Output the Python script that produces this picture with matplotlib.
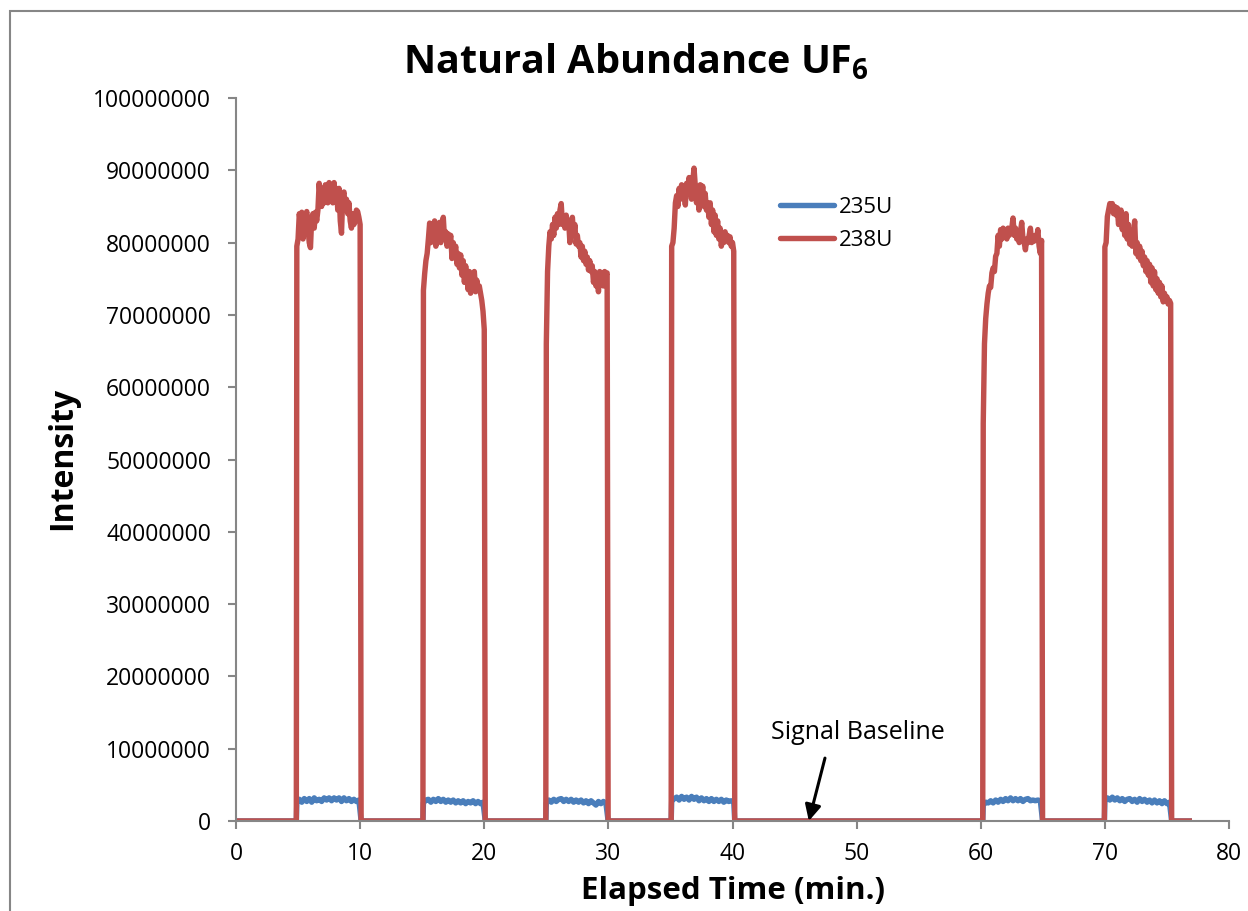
import numpy as np
import matplotlib
matplotlib.use("Agg")
import matplotlib.pyplot as plt
from matplotlib.patches import Rectangle

plt.rcParams['font.family'] = ['Open Sans', 'DejaVu Sans']
plt.rcParams['mathtext.fontset'] = 'custom'
plt.rcParams['mathtext.rm'] = 'Open Sans'
plt.rcParams['mathtext.bf'] = 'Open Sans:bold'

# ---------------- data ----------------
# pulse start times (min) for both isotopes, sampling steps
pulse_starts = [4.9, 15.1, 25.0, 35.1, 60.2, 70.0]
step_238 = 0.1
step_235 = 0.2
end_time = 76.8

# 238U intensity during each pulse (millions of counts)
u238_p1 = [79.5, 80.5, 84.0, 82.5, 84.2, 80.5, 84.0, 83.5, 84.3, 82.0, 80.0, 79.3, 83.5, 84.0, 82.0,
           84.2, 83.0, 84.5, 88.2, 86.0, 85.0, 87.5, 85.5, 88.0, 86.5, 85.5, 88.3, 86.5, 87.8, 85.5,
           88.3, 86.0, 87.5, 84.5, 87.5, 83.0, 81.3, 86.5, 87.0, 84.5, 86.0, 84.0, 85.5, 83.0, 82.0,
           84.0, 82.5, 83.0, 84.5, 84.3, 83.5, 82.5]
u238_p2 = [73.4, 75.7, 77.5, 78.5, 80.5, 82.7, 80.0, 82.5, 81.0, 83.0, 79.5, 82.0, 80.5, 82.8, 80.0,
           82.0, 83.5, 80.5, 81.5, 79.5, 81.2, 80.0, 81.0, 77.8, 80.0, 78.5, 79.5, 77.0, 78.5, 76.5,
           78.3, 75.5, 77.5, 74.5, 76.8, 75.5, 73.5, 76.0, 73.0, 75.5, 74.0, 76.0, 73.2, 74.8, 73.5,
           74.0, 73.0, 72.0, 70.5, 68.0]
u238_p3 = [66.0, 76.0, 79.5, 81.5, 80.5, 82.5, 81.0, 83.5, 82.0, 84.0, 82.5, 84.5, 85.4, 82.5, 83.5,
           82.0, 83.8, 82.5, 83.0, 80.0, 82.5, 83.5, 81.0, 82.5, 79.8, 81.0, 79.5, 80.0, 78.0, 79.5,
           77.5, 78.8, 77.0, 78.0, 76.2, 77.5, 76.0, 76.8, 74.5, 76.0, 74.0, 75.5, 73.2, 76.0, 74.5,
           75.8, 74.0, 76.0, 75.5, 75.8]
u238_p4 = [79.5, 80.0, 82.0, 85.5, 86.5, 85.0, 87.5, 86.0, 88.0, 86.5, 87.0, 85.2, 88.2, 87.0, 89.0,
           87.5, 86.0, 88.5, 90.3, 88.0, 85.5, 87.5, 84.5, 88.0, 86.0, 87.8, 85.0, 86.8, 84.5, 85.5,
           83.5, 85.5, 82.5, 84.5, 81.5, 83.8, 81.0, 83.0, 80.5, 82.0, 79.5, 81.0, 80.0, 81.5, 80.5,
           81.0, 80.0, 80.8, 79.5, 80.0, 78.8]
u238_p5 = [55.0, 66.0, 69.5, 71.5, 73.0, 74.0, 73.8, 75.8, 76.5, 76.0, 78.1, 78.5, 81.0, 79.5, 81.8,
           80.5, 82.0, 80.8, 81.8, 80.5, 82.0, 81.0, 81.5, 82.0, 83.4, 81.0, 82.0, 80.5, 81.5, 80.0,
           81.5, 82.8, 80.5, 80.0, 79.0, 80.5, 80.0, 81.0, 82.0, 80.0, 80.8, 80.2, 81.0, 80.5, 81.8,
           79.5, 78.5, 80.3]
u238_p6 = [79.4, 80.0, 83.6, 84.5, 85.4, 85.2, 85.4, 84.0, 85.0, 83.8, 84.8, 82.5, 83.5, 84.5, 81.8,
           83.0, 81.0, 84.0, 80.5, 82.5, 79.8, 81.5, 79.5, 81.0, 83.0, 78.5, 80.0, 78.0, 79.5, 77.5,
           78.8, 76.8, 78.0, 76.0, 77.5, 75.5, 77.0, 74.5, 76.5, 74.0, 76.0, 73.5, 75.0, 73.0, 74.5,
           72.5, 74.0, 71.8, 73.0, 72.0, 72.5, 71.5, 72.0, 71.6]

# 235U intensity during each pulse (millions of counts)
u235_p1 = [2.5, 3.0, 2.6, 3.1, 2.7, 3.1, 2.6, 3.2, 2.8, 3.0, 2.7, 3.2, 2.9, 3.2, 2.8, 3.2, 2.9, 3.2,
           2.7, 3.2, 2.8, 3.1, 2.7, 3.0, 2.7, 2.9]
u235_p2 = [2.5, 2.9, 3.0, 2.6, 3.0, 2.7, 3.1, 2.7, 3.0, 2.6, 2.9, 2.6, 2.9, 2.5, 2.8, 2.5, 2.8, 2.4,
           2.7, 2.5, 2.8, 2.4, 2.7, 2.4, 2.6]
u235_p3 = [2.5, 2.9, 2.6, 3.0, 2.7, 3.0, 3.1, 2.7, 3.0, 2.7, 3.0, 2.6, 2.9, 2.6, 2.9, 2.5, 2.8, 2.4,
           2.8, 2.5, 2.2, 2.7, 2.4, 2.7, 2.5]
u235_p4 = [2.7, 3.1, 3.3, 2.9, 3.4, 3.0, 3.3, 2.9, 3.4, 3.0, 3.3, 2.8, 3.2, 2.8, 3.1, 2.7, 3.1, 2.7,
           3.0, 2.7, 3.0, 2.6, 2.9, 2.7, 2.8, 2.7]
u235_p5 = [2.2, 2.6, 2.5, 2.8, 2.5, 2.9, 2.6, 3.0, 2.7, 3.1, 2.8, 3.2, 2.8, 3.1, 2.8, 3.1, 2.7, 3.0,
           3.1, 2.8, 2.9, 2.8, 2.9, 2.8]
u235_p6 = [2.7, 3.2, 2.9, 3.3, 2.9, 3.2, 2.8, 3.1, 2.7, 3.0, 3.1, 2.7, 3.0, 2.6, 3.1, 2.7, 3.0, 2.6,
           2.9, 2.5, 2.9, 2.5, 2.8, 2.4, 2.8, 2.4, 2.6]

u238_pulses = [u238_p1, u238_p2, u238_p3, u238_p4, u238_p5, u238_p6]
u235_pulses = [u235_p1, u235_p2, u235_p3, u235_p4, u235_p5, u235_p6]
pulse_ends = [s + (len(p) - 1) * step_238 for s, p in zip(pulse_starts, u238_pulses)]

x_ticks = [0, 10, 20, 30, 40, 50, 60, 70, 80]
y_ticks = [0, 10000000, 20000000, 30000000, 40000000, 50000000,
           60000000, 70000000, 80000000, 90000000, 100000000]

# annotation: text position, arrow tail and arrow head (data units)
note_text = 'Signal Baseline'
note_xy = (50.1, 12300000)
arrow_tail = (47.45, 8700000)
arrow_head = (46.15, 0)


def build(pulses, step):
    t, v = [0.0], [0.0]
    for s, e, p in zip(pulse_starts, pulse_ends, pulses):
        t.append(s - 0.04)
        v.append(0.0)
        tt = [s + i * step for i in range(len(p))]
        t.extend(tt)
        v.extend([x * 1e6 for x in p])
        t.append(max(tt[-1], e) + 0.08)
        v.append(0.0)
    t.append(end_time)
    v.append(0.0)
    return np.array(t), np.array(v)


t238, v238 = build(u238_pulses, step_238)
t235, v235 = build(u235_pulses, step_235)

# ---------------- figure ----------------
W, H = 1248, 911
fig = plt.figure(figsize=(W / 100, H / 100), dpi=100)
ax = fig.add_axes([236 / W, 1 - 821 / H, (1229 - 236) / W, (821 - 98) / H])

blue = '#4A7EBB'
red = '#C0504D'
LW = 3.9
ax.plot(t235, v235, color=blue, lw=LW, label='235U', solid_joinstyle='round')
ax.plot(t238, v238, color=red, lw=LW, label='238U', solid_joinstyle='round')

ax.set_xlim(0, 80)
ax.set_ylim(0, 100000000)
ax.set_xticks(x_ticks)
ax.set_yticks(y_ticks)
ax.set_yticklabels([str(v) for v in y_ticks])
ax.set_xticklabels([str(v) for v in x_ticks])

grey = '#868686'
for s in ['top', 'right']:
    ax.spines[s].set_visible(False)
for s in ['left', 'bottom']:
    ax.spines[s].set_color(grey)
    ax.spines[s].set_linewidth(1.5)
ax.tick_params(axis='both', direction='out', length=6, width=1.5, color=grey,
               labelsize=16.5, labelcolor='black')
ax.tick_params(axis='y', pad=12)
ax.tick_params(axis='x', pad=9)

leg = ax.legend(loc='upper left', bbox_to_anchor=((780 - 236) / 993, (821 - 197) / 723),
                frameon=False, fontsize=16, handlelength=2.45, handletextpad=0.22,
                labelspacing=0.55, borderpad=0, borderaxespad=0)
for line in leg.get_lines():
    line.set_solid_capstyle('round')
    line.set_linewidth(LW)

ax.text(note_xy[0], note_xy[1], note_text, ha='center', va='center', fontsize=18)
ax.annotate('', xy=arrow_head, xytext=arrow_tail,
            arrowprops=dict(arrowstyle='-|>', color='black', lw=2.2,
                            shrinkA=0, shrinkB=0, mutation_scale=24))

fig.text(636 / W, 1 - 73 / H, r'Natural Abundance UF$_\mathbf{6}$', ha='center', va='baseline',
         fontsize=28.5, fontweight='bold')
fig.text(63 / W, 1 - 458 / H, 'Intensity', rotation=90, ha='center', va='center',
         fontsize=23, fontweight='bold')
fig.text(733 / W, 1 - 891 / H, 'Elapsed Time (min.)', ha='center', va='center',
         fontsize=22.5, fontweight='bold')

fig.patches.append(Rectangle((10 / W, -0.2), 1.2, 1 - 11 / H + 0.2, transform=fig.transFigure,
                             fill=False, edgecolor=grey, lw=1.5))

fig.savefig('out.png', dpi=100)
